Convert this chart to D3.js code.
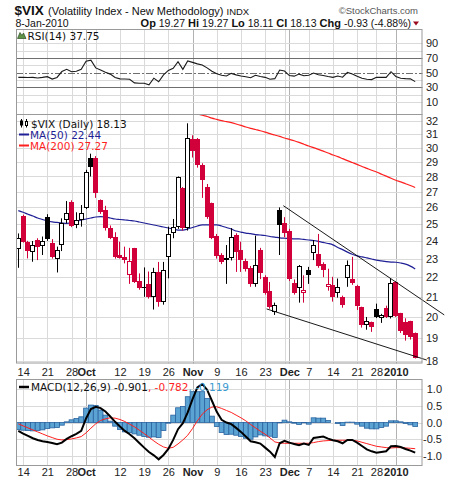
<!DOCTYPE html>
<html>
<head>
<meta charset="utf-8">
<script src="https://cdn.jsdelivr.net/npm/d3@7"></script>
<style>
  html, body { margin: 0; padding: 0; background: #fff; }
  svg { display: block; }
  text { font-family: "Liberation Sans", Arial, sans-serif; }
  .leg { font-family: "DejaVu Sans", Verdana, sans-serif; font-size: 10.5px; }
</style>
</head>
<body>
<svg id="chart" width="460" height="482"></svg>
<script>
// ---- trading days, 11 Sep 2009 .. 8 Jan 2010 ----
const dates = [
  "2009-09-11","2009-09-14","2009-09-15","2009-09-16","2009-09-17","2009-09-18",
  "2009-09-21","2009-09-22","2009-09-23","2009-09-24","2009-09-25",
  "2009-09-28","2009-09-29","2009-09-30","2009-10-01","2009-10-02",
  "2009-10-05","2009-10-06","2009-10-07","2009-10-08","2009-10-09",
  "2009-10-12","2009-10-13","2009-10-14","2009-10-15","2009-10-16",
  "2009-10-19","2009-10-20","2009-10-21","2009-10-22","2009-10-23",
  "2009-10-26","2009-10-27","2009-10-28","2009-10-29","2009-10-30",
  "2009-11-02","2009-11-03","2009-11-04","2009-11-05","2009-11-06",
  "2009-11-09","2009-11-10","2009-11-11","2009-11-12","2009-11-13",
  "2009-11-16","2009-11-17","2009-11-18","2009-11-19","2009-11-20",
  "2009-11-23","2009-11-24","2009-11-25","2009-11-27",
  "2009-11-30","2009-12-01","2009-12-02","2009-12-03","2009-12-04",
  "2009-12-07","2009-12-08","2009-12-09","2009-12-10","2009-12-11",
  "2009-12-14","2009-12-15","2009-12-16","2009-12-17","2009-12-18",
  "2009-12-21","2009-12-22","2009-12-23","2009-12-24",
  "2009-12-28","2009-12-29","2009-12-30","2009-12-31",
  "2010-01-04","2010-01-05","2010-01-06","2010-01-07","2010-01-08"
];

// ---- daily OHLC of $VIX ----
const priorClose = 23.9;
const open = [
  23.55,25.49,23.95,23.35,24.05,23.71,25.43,23.89,22.97,23.76,25.21,26.35,24.93,25.21,25.98,29.28,
  29.30,26.48,25.83,24.74,24.24,23.20,23.10,22.10,23.58,21.80,21.50,21.64,20.96,22.30,20.75,
  23.10,24.44,24.83,27.22,24.77,30.60,30.60,28.75,27.30,26.26,24.30,23.20,22.90,23.05,24.33,
  23.48,22.88,22.50,21.65,23.50,22.02,21.30,20.25,25.83,25.03,24.60,21.68,21.42,21.20,22.36,
  23.33,23.28,22.70,21.50,21.60,21.17,21.00,21.94,21.90,21.55,20.47,19.62,19.75,20.37,19.93,
  20.42,20.01,21.76,20.18,19.78,19.82,19.27
];
const high = [
  24.43,25.55,24.00,23.99,24.15,24.25,25.58,24.10,23.67,25.33,26.40,26.45,25.70,26.15,28.45,29.57,
  29.40,26.50,26.10,24.90,24.50,23.95,23.67,23.60,23.60,22.20,22.52,22.30,22.50,22.82,22.82,
  24.83,25.29,28.00,27.30,31.80,30.90,30.70,28.90,27.50,26.30,24.40,23.30,23.76,24.74,24.44,
  23.95,23.00,22.60,24.30,23.60,22.10,21.75,20.70,26.00,25.40,24.70,21.88,22.65,22.10,22.55,
  24.05,24.40,22.80,22.45,22.02,21.93,21.05,22.90,23.10,21.60,20.50,20.00,19.78,20.65,20.15,
  20.55,21.94,21.80,20.20,19.94,19.82,19.27
];
const low = [
  22.50,23.90,23.01,22.83,22.92,23.20,24.00,23.00,22.25,23.42,25.03,24.80,24.74,24.83,25.90,28.00,
  26.60,25.60,24.60,24.10,23.00,23.00,22.74,21.65,21.70,21.35,20.99,20.90,20.36,20.50,20.60,
  21.94,24.15,24.70,24.60,24.60,29.30,28.60,26.60,25.30,24.10,23.00,22.70,21.65,22.90,22.28,
  22.28,22.30,21.50,21.50,21.90,21.10,20.40,20.10,23.20,24.20,21.80,21.10,20.70,20.70,21.65,
  22.92,22.50,22.00,21.30,20.75,20.95,20.45,21.50,21.60,20.34,19.50,19.40,19.30,19.95,19.72,
  19.95,19.93,20.00,19.25,18.90,18.95,18.11
];
const close = [
  24.17,23.95,23.42,23.76,23.67,23.99,24.10,23.10,23.48,25.03,25.64,24.89,25.23,25.64,28.30,28.66,
  26.90,25.73,24.74,24.18,23.10,23.05,22.92,22.85,21.76,21.45,21.48,20.96,22.30,20.75,22.36,
  24.37,24.83,27.95,24.77,30.69,29.78,28.75,27.76,25.40,24.19,23.15,22.84,23.05,24.24,23.37,
  22.92,22.45,21.65,22.65,22.20,21.19,20.47,20.59,24.93,24.47,21.93,21.16,22.60,21.33,22.10,
  23.76,22.60,22.36,21.64,21.00,21.50,20.60,22.65,21.71,20.53,19.62,19.82,19.55,19.98,20.09,
  19.98,21.68,20.04,19.35,19.16,19.06,18.13
];

// ---- moving averages ----
const ma50 = [
  25.80,25.70,25.58,25.47,25.35,25.26,25.17,25.11,25.08,25.05,25.03,25.05,25.14,25.23,25.29,25.35,
  25.41,25.43,25.41,25.35,25.29,25.26,25.23,25.20,25.17,25.11,25.05,24.99,24.93,24.87,24.81,
  24.75,24.69,24.63,24.63,24.69,24.78,24.87,24.93,24.93,24.93,24.93,24.87,24.78,24.69,24.57,
  24.51,24.45,24.42,24.36,24.34,24.31,24.25,24.22,24.17,24.15,24.14,24.11,24.11,24.08,24.05,
  24.02,23.97,23.91,23.85,23.77,23.62,23.50,23.36,23.24,23.15,23.10,23.04,22.98,22.92,22.88,
  22.84,22.81,22.80,22.76,22.70,22.59,22.44
];
const ma200First = 36;   // first trading day index of the ma200 values below
const ma200 = [
  32.70,32.55,32.42,32.32,32.20,32.10,32.00,31.93,31.85,31.75,31.64,31.52,31.42,31.33,31.24,
  31.14,31.02,30.92,30.82,30.70,30.60,30.50,30.38,30.25,30.12,30.00,29.88,29.75,29.62,29.48,
  29.36,29.22,29.08,28.95,28.82,28.68,28.55,28.42,28.30,28.16,28.02,27.88,27.75,27.64,27.52,
  27.40,27.27
];

// ---- RSI(14) ----
const rsi = [
  43.6,43.8,43.3,43.6,42.8,43.5,44.5,41.2,43.5,51.5,54.5,51.3,52.0,54.5,65.5,67.0,
  56.5,53.5,50.5,48.0,43.5,41.5,41.3,41.0,36.0,35.5,35.5,33.5,42.5,37.6,47.0,
  53.0,55.9,65.0,54.5,65.9,64.0,62.0,60.5,56.5,52.0,48.5,46.5,45.5,49.0,47.0,
  45.5,44.5,43.0,46.5,44.8,43.6,41.0,41.8,53.6,52.2,46.0,45.2,48.0,45.8,46.5,
  49.5,47.2,46.2,44.8,43.6,45.4,43.8,50.4,48.1,45.0,42.3,40.9,40.5,43.6,43.8,
  43.6,51.3,44.8,42.3,41.8,41.5,37.75
];

// ---- MACD(12,26,9) ----
const macd = [
  -0.25,-0.33,-0.40,-0.47,-0.52,-0.56,-0.58,-0.61,-0.65,-0.60,-0.49,-0.41,-0.34,-0.25,0.12,0.40,
  0.47,0.43,0.33,0.18,0.02,-0.12,-0.25,-0.35,-0.47,-0.61,-0.75,-0.88,-0.98,-1.10,-0.97,
  -0.79,-0.52,-0.20,-0.02,0.30,0.70,1.05,1.15,0.98,0.65,0.32,0.08,0.00,-0.05,-0.16,
  -0.28,-0.42,-0.56,-0.59,-0.63,-0.75,-0.87,-1.03,-0.62,-0.55,-0.60,-0.64,-0.68,-0.63,-0.67,
  -0.46,-0.44,-0.42,-0.48,-0.53,-0.56,-0.62,-0.52,-0.52,-0.60,-0.70,-0.80,-0.86,-0.90,-0.88,
  -0.86,-0.71,-0.70,-0.73,-0.79,-0.84,-0.901
];
const signal = [
  -0.04,-0.10,-0.16,-0.22,-0.28,-0.34,-0.40,-0.45,-0.50,-0.52,-0.51,-0.49,-0.46,-0.42,-0.31,-0.17,
  -0.04,0.06,0.11,0.14,0.13,0.09,0.03,-0.05,-0.13,-0.23,-0.33,-0.44,-0.55,-0.65,-0.73,
  -0.77,-0.74,-0.64,-0.52,-0.38,-0.18,0.05,0.25,0.38,0.46,0.47,0.42,0.36,0.30,0.22,
  0.14,0.05,-0.06,-0.16,-0.26,-0.35,-0.46,-0.58,-0.61,-0.62,-0.62,-0.62,-0.62,-0.62,-0.62,
  -0.60,-0.57,-0.55,-0.54,-0.53,-0.53,-0.53,-0.53,-0.53,-0.55,-0.59,-0.63,-0.67,-0.71,-0.73,
  -0.75,-0.76,-0.75,-0.75,-0.76,-0.77,-0.782
];
const hist = [
  -0.21,-0.23,-0.24,-0.25,-0.24,-0.22,-0.18,-0.16,-0.15,-0.08,0.02,0.08,0.12,0.17,0.43,0.52,
  0.51,0.37,0.22,0.04,-0.11,-0.21,-0.28,-0.30,-0.34,-0.38,-0.42,-0.44,-0.43,-0.45,-0.24,
  -0.02,0.22,0.44,0.48,0.77,0.92,0.92,0.92,0.72,0.19,-0.12,-0.30,-0.36,-0.35,-0.38,
  -0.42,-0.47,-0.50,-0.43,-0.37,-0.40,-0.41,-0.45,-0.01,0.07,0.02,-0.02,-0.06,-0.01,-0.05,
  0.14,0.13,0.13,0.06,0.00,-0.03,-0.09,0.01,0.01,-0.05,-0.11,-0.17,-0.19,-0.19,-0.15,
  -0.11,0.05,0.05,0.02,-0.03,-0.07,-0.119
];

// ---- hand-drawn channel lines (trading-day position, price) ----
const upperTrend = [[54.75, 26.11], [88.0, 20.10]];
const lowerTrend = [[51.3, 20.39], [84.4, 18.04]];

// ---- axis ticks ----
const dateTicks = [
  {d:"2009-09-14", label:"14"}, {d:"2009-09-21", label:"21"}, {d:"2009-09-28", label:"28"},
  {d:"2009-10-01", label:"Oct", month:true}, {d:"2009-10-05", label:""},
  {d:"2009-10-12", label:"12"}, {d:"2009-10-19", label:"19"}, {d:"2009-10-26", label:"26"},
  {d:"2009-11-02", label:"Nov", month:true}, {d:"2009-11-09", label:"9"},
  {d:"2009-11-16", label:"16"}, {d:"2009-11-23", label:"23"}, {d:"2009-11-30", label:""},
  {d:"2009-12-01", label:"Dec", month:true}, {d:"2009-12-07", label:"7"},
  {d:"2009-12-14", label:"14"}, {d:"2009-12-21", label:"21"}, {d:"2009-12-28", label:"28"},
  {d:"2010-01-04", label:"2010", month:true}
];
const priceTicks = [18,19,20,21,22,23,24,25,26,27,28,29,30,31,32];
const rsiGrid = [10,20,30,40,50,60,70,80,90];
const rsiTicks = [10,30,50,70,90];
const macdTicks = [-1.0,-0.5,0.0,0.5,1.0];

// ================= drawing =================
const svg = d3.select("#chart");
const L = 16, R = 422.5;
const rsiP   = {top: 29,  bottom: 114};
const priceP = {top: 114, bottom: 363.5};
const macdP  = {top: 379, bottom: 466};
const n = dates.length;
const idx = d3.range(n);

const x  = d3.scaleLinear().domain([0, n - 1]).range([18.3, 415.2]);
const yR = d3.scaleLinear().domain([0, 100]).range([109.3, 36]);
const yP = d3.scaleLog().domain([18, 32]).range([361, 120.7]);
const yM = d3.scaleLinear().domain([-1, 1]).range([456, 389]);

const tickIdx = dateTicks.map(t => dates.indexOf(t.d));
const px = v => Math.round(v) + 0.5;

const defs = svg.append("defs");
function clip(id, p) {
  defs.append("clipPath").attr("id", id).append("rect")
    .attr("x", L).attr("y", p.top).attr("width", R - L).attr("height", p.bottom - p.top);
}
clip("cR", rsiP); clip("cP", priceP); clip("cM", macdP);

function vGrid(p) {
  svg.append("g").selectAll("line").data(dateTicks).join("line")
    .attr("x1", t => px(x(dates.indexOf(t.d)))).attr("x2", t => px(x(dates.indexOf(t.d))))
    .attr("y1", p.top).attr("y2", p.bottom)
    .attr("stroke", t => t.month ? "#b2b2b2" : "#dadada").attr("stroke-width", 1);
}
function hGrid(p, vals, y, color) {
  svg.append("g").selectAll("line").data(vals).join("line")
    .attr("x1", L).attr("x2", R).attr("y1", d => px(y(d))).attr("y2", d => px(y(d)))
    .attr("stroke", color || "#dadada").attr("stroke-width", 1);
}

// ---------- header ----------
svg.append("text").attr("x", 14.5).attr("y", 15).attr("font-size", 13.5).attr("font-weight", "bold")
  .attr("fill", "#111").text("$VIX");
svg.append("text").attr("x", 48).attr("y", 15).attr("font-size", 11).attr("fill", "#111")
  .text("(Volatility Index - New Methodology)");
svg.append("text").attr("x", 226.5).attr("y", 15).attr("font-size", 9.5).attr("fill", "#111")
  .attr("font-family", "DejaVu Sans, sans-serif").text("INDX");
svg.append("text").attr("x", 418).attr("y", 14).attr("text-anchor", "end").attr("font-size", 9.5)
  .attr("font-family", "DejaVu Sans, sans-serif").attr("fill", "#555").text("\u00A9StockCharts.com");
svg.append("text").attr("x", 15.5).attr("y", 26.5).attr("font-size", 10.5).attr("fill", "#111")
  .text("8-Jan-2010");

const last = n - 1;
const chg = close[last] - close[last - 1];
const ohlc = svg.append("text").attr("x", 411).attr("y", 26.5).attr("text-anchor", "end")
  .attr("font-size", 10.5).attr("fill", "#111");
[["Op", open[last].toFixed(2)], ["Hi", high[last].toFixed(2)], ["Lo", low[last].toFixed(2)],
 ["Cl", close[last].toFixed(2)],
 ["Chg", chg.toFixed(2) + " (" + (chg / close[last - 1] * 100).toFixed(2) + "%)"]]
  .forEach(([k, v], i) => {
    ohlc.append("tspan").attr("font-weight", "bold").attr("font-size", 11).text((i ? " " : "") + k);
    ohlc.append("tspan").text(" " + v);
  });
svg.append("path").attr("d", "M413,21.5 L419,21.5 L416,25.5 Z").attr("fill", "#9a0a1e");

// ---------- RSI panel ----------
vGrid(rsiP);
hGrid(rsiP, rsiGrid.filter(v => v !== 30 && v !== 50 && v !== 70), yR);
hGrid(rsiP, [30, 70], yR, "#6e6e6e");
svg.append("line").attr("x1", L).attr("x2", R).attr("y1", px(yR(50))).attr("y2", px(yR(50)))
  .attr("stroke", "#6e6e6e").attr("stroke-dasharray", "7,2,2,2");
svg.append("path").datum(idx).attr("clip-path", "url(#cR)")
  .attr("fill", "none").attr("stroke", "#1a1a1a").attr("stroke-width", 1.1)
  .attr("d", d3.line().x(i => x(i)).y(i => yR(rsi[i])));
svg.append("rect").attr("x", L + 0.5).attr("y", rsiP.top + 0.5).attr("width", R - L - 1)
  .attr("height", rsiP.bottom - rsiP.top).attr("fill", "none").attr("stroke", "#9a9a9a");
svg.append("path").attr("d", "M17.5,38.5 L20,32.5 L22,35.5 L23.5,33 L26,38.5 Z")
  .attr("fill", "#5f9448").attr("stroke", "#2d4d22").attr("stroke-width", 0.7);
svg.append("text").attr("class", "leg").attr("x", 27.5).attr("y", 40).attr("fill", "#111")
  .text("RSI(14) " + rsi[last].toFixed(2));
svg.append("g").attr("transform", `translate(${R},0)`)
  .call(d3.axisRight(yR).tickValues(rsiTicks).tickSize(0).tickPadding(3.5))
  .call(g => g.select(".domain").remove())
  .call(g => g.selectAll("text").attr("font-size", 11).attr("fill", "#222")
    .attr("font-family", "Liberation Sans, Arial, sans-serif"));

// ---------- price panel ----------
vGrid(priceP);
hGrid(priceP, priceTicks, yP);

const pg = svg.append("g").attr("clip-path", "url(#cP)");
pg.append("path").datum(idx).attr("fill", "none").attr("stroke", "#1f1f96").attr("stroke-width", 1.2)
  .attr("d", d3.line().curve(d3.curveMonotoneX).x(i => x(i)).y(i => yP(ma50[i])));
pg.append("path").datum(d3.range(ma200.length)).attr("fill", "none").attr("stroke", "#ff1f1f")
  .attr("stroke-width", 1.2)
  .attr("d", d3.line().curve(d3.curveMonotoneX).x(k => x(ma200First + k)).y(k => yP(ma200[k])));

const red = "#d2003a";
const prevC = i => (i === 0 ? priorClose : close[i - 1]);
const colorOf = i => (close[i] < prevC(i) ? red : "#000");
const col = i => Math.floor(x(i));

pg.selectAll("line.wick").data(idx).join("line").attr("class", "wick")
  .attr("x1", i => col(i) + 0.5).attr("x2", i => col(i) + 0.5)
  .attr("y1", i => yP(high[i])).attr("y2", i => yP(low[i]))
  .attr("stroke", colorOf).attr("stroke-width", 1);

pg.selectAll("rect.body").data(idx).join("rect").attr("class", "body")
  .each(function (i) {
    const top = Math.round(yP(Math.max(open[i], close[i])));
    const bot = Math.round(yP(Math.min(open[i], close[i])));
    const hollow = close[i] >= open[i];
    const el = d3.select(this);
    if (hollow) {
      el.attr("x", col(i) - 1.5).attr("width", 4)
        .attr("y", top + 0.5).attr("height", Math.max(1, bot - top - 1))
        .attr("fill", "#fff").attr("stroke", colorOf(i)).attr("stroke-width", 1);
    } else {
      el.attr("x", col(i) - 2).attr("width", 5)
        .attr("y", top).attr("height", Math.max(1, bot - top))
        .attr("fill", colorOf(i));
    }
  });

// channel lines run a little past the panel edge
[upperTrend, lowerTrend].forEach(seg => {
  svg.append("line")
    .attr("x1", x(seg[0][0])).attr("y1", yP(seg[0][1]))
    .attr("x2", x(seg[1][0])).attr("y2", yP(seg[1][1]))
    .attr("stroke", "#000").attr("stroke-width", 0.9);
});

svg.append("rect").attr("x", L + 0.5).attr("y", priceP.top + 0.5).attr("width", R - L - 1)
  .attr("height", priceP.bottom - priceP.top - 1).attr("fill", "none").attr("stroke", "#9a9a9a");

// legend
const lg = svg.append("g");
lg.append("line").attr("x1", 21.5).attr("x2", 21.5).attr("y1", 119).attr("y2", 127.5).attr("stroke", "#000");
lg.append("rect").attr("x", 20).attr("y", 120.5).attr("width", 3).attr("height", 5).attr("fill", "#000");
lg.append("line").attr("x1", 26.5).attr("x2", 26.5).attr("y1", 119).attr("y2", 127.5).attr("stroke", "#000");
lg.append("rect").attr("x", 25.5).attr("y", 121.5).attr("width", 2).attr("height", 4)
  .attr("fill", "#fff").attr("stroke", "#000");
lg.append("text").attr("class", "leg").attr("x", 31).attr("y", 127.5).attr("fill", "#111")
  .text("$VIX (Daily) " + close[last].toFixed(2));
lg.append("line").attr("x1", 19).attr("x2", 29).attr("y1", 134.5).attr("y2", 134.5)
  .attr("stroke", "#1f1f96").attr("stroke-width", 2);
lg.append("text").attr("class", "leg").attr("x", 30).attr("y", 138.5).attr("fill", "#1f1f96")
  .text("MA(50) " + ma50[last].toFixed(2));
lg.append("line").attr("x1", 19).attr("x2", 29).attr("y1", 145.5).attr("y2", 145.5)
  .attr("stroke", "#ff1f1f").attr("stroke-width", 2);
lg.append("text").attr("class", "leg").attr("x", 30).attr("y", 149.5).attr("fill", "#ff1f1f")
  .text("MA(200) " + ma200[ma200.length - 1].toFixed(2));

svg.append("g").attr("transform", `translate(${R},0)`)
  .call(d3.axisRight(yP).tickValues(priceTicks).tickFormat(d3.format("d")).tickSize(0).tickPadding(3.5))
  .call(g => g.select(".domain").remove())
  .call(g => g.selectAll("text").attr("font-size", 11).attr("fill", "#222")
    .attr("font-family", "Liberation Sans, Arial, sans-serif"));

function dateAxis(yPos) {
  svg.append("g").attr("transform", `translate(0,${yPos})`)
    .call(d3.axisBottom(x).tickValues(tickIdx)
      .tickFormat((d, k) => dateTicks[k].label).tickSize(0).tickPadding(0))
    .call(g => g.select(".domain").remove())
    .call(g => g.selectAll("text").attr("font-size", 11).attr("fill", "#222")
      .attr("font-family", "Liberation Sans, Arial, sans-serif")
      .attr("font-weight", (d, k) => dateTicks[k].month ? "bold" : "normal"));
}
dateAxis(368);

// ---------- MACD panel ----------
vGrid(macdP);
hGrid(macdP, macdTicks, yM);
const mg = svg.append("g").attr("clip-path", "url(#cM)");
const bw = (x(1) - x(0)) / 2;
mg.selectAll("rect.hist").data(idx).join("rect").attr("class", "hist")
  .attr("x", i => x(i) - bw).attr("width", bw * 2)
  .attr("y", i => Math.min(yM(0), yM(hist[i])))
  .attr("height", i => Math.abs(yM(hist[i]) - yM(0)))
  .attr("fill", "#5aa3d2").attr("stroke", "#2a63a0").attr("stroke-width", 0.8);
mg.append("path").datum(idx).attr("fill", "none").attr("stroke", "#ff1f1f").attr("stroke-width", 1)
  .attr("d", d3.line().x(i => x(i)).y(i => yM(signal[i])));
mg.append("path").datum(idx).attr("fill", "none").attr("stroke", "#000").attr("stroke-width", 2)
  .attr("d", d3.line().x(i => x(i)).y(i => yM(macd[i])));
svg.append("rect").attr("x", L + 0.5).attr("y", macdP.top + 0.5).attr("width", R - L - 1)
  .attr("height", macdP.bottom - macdP.top - 1).attr("fill", "none").attr("stroke", "#9a9a9a");

svg.append("line").attr("x1", 19).attr("x2", 29).attr("y1", 387).attr("y2", 387)
  .attr("stroke", "#000").attr("stroke-width", 2.5);
const mt = svg.append("text").attr("class", "leg").attr("x", 31).attr("y", 391).attr("fill", "#111");
mt.append("tspan").text("MACD(12,26,9) " + macd[last].toFixed(3));
mt.append("tspan").attr("fill", "#ff1f1f").text(", " + signal[last].toFixed(3));
mt.append("tspan").attr("fill", "#3b9ad0").text(", " + hist[last].toFixed(3));

svg.append("g").attr("transform", `translate(${R},0)`)
  .call(d3.axisRight(yM).tickValues(macdTicks).tickFormat(d => d.toFixed(1)).tickSize(0))
  .call(g => g.select(".domain").remove())
  .call(g => g.selectAll("text").attr("x", 19.5).attr("text-anchor", "end")
    .attr("font-size", 11).attr("fill", "#222")
    .attr("font-family", "Liberation Sans, Arial, sans-serif"));

dateAxis(468.5);
</script>
</body>
</html>
